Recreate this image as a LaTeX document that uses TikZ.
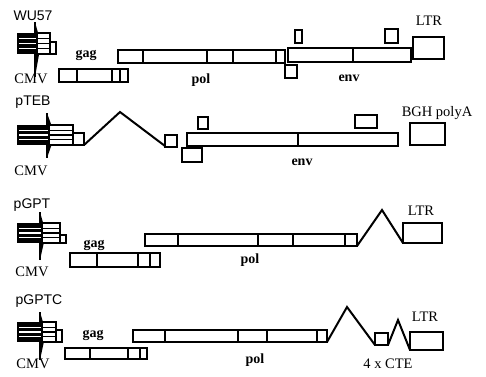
\documentclass[tikz,border=0pt]{standalone}
\usepackage{fontspec}
\setmainfont{Liberation Serif}
\newfontfamily\lblsans{Liberation Sans}
\newcommand\segbox[5]{%
  \draw[box] (#1,#2) rectangle (#3,#4);
  \foreach \d in {#5} {\draw[box] (\d,#2) -- (\d,#4);}}
\newcommand\plainbox[4]{\draw[box] (#1,#2) rectangle (#3,#4);}
% promoter: body x1 y1 x2 y2, spike top, spike bottom, tip x, striped box x2, small box top
\newcommand\promoter[9]{%
  \fill[black] (#1,#2) rectangle (#3,#4);
  \fill[black] (#3,#5) -- (#7,{(#2+#4)/2}) -- (#3,#6) -- cycle;
  \draw[line width=1.8pt] (#3,#5) -- (#3,#6);
  \foreach \f in {0.27,0.5,0.73}
    {\draw[white,line width=1.2pt] ({#1+2},{#2+\f*(#4-#2)}) -- ({#3+3},{#2+\f*(#4-#2)});}
  \draw[box] ({#3+2},#2) rectangle (#8,#4);
  \foreach \f in {0.27,0.5,0.73}
    {\draw[line width=1.3pt] ({#3+2},{#2+\f*(#4-#2)}) -- (#8,{#2+\f*(#4-#2)});}
  \draw[box] (#8,#9) rectangle ({#8+6},#4);
}
\begin{document}
\begin{tikzpicture}[x=1pt,y=-1pt,
  box/.style={draw=black,line width=2pt,fill=white},
  intron/.style={draw=black,line width=2pt,line join=miter},
  lbl/.style={font=\fontsize{14.5}{14.5}\selectfont,inner sep=0pt},
  gene/.style={font=\bfseries\fontsize{14}{14}\selectfont,inner sep=0pt},
  vecname/.style={font=\lblsans\fontsize{14}{14}\selectfont,inner sep=0pt}]
\useasboundingbox (0,0) rectangle (486,376);
\fill[white] (0,0) rectangle (486,376);

% ---------- Row 1: WU57 ----------
\node[vecname] (n1) at (33,16) {WU57};
\promoter{17}{33}{35}{54}{22}{77}{41}{50}{42}
\node[lbl] (c1) at (31,79) {CMV};
\segbox{59}{69}{128}{82}{77,112,120}
\node[gene] (g1) at (86,55) {gag};
\segbox{118}{50}{285}{63}{143,207,233,276}
\node[gene] (p1) at (201,80) {pol};
\segbox{288}{48}{411}{62}{353}
\node[gene] (e1) at (349,78) {env};
\plainbox{295}{30}{302}{43}
\plainbox{285}{65}{297}{78}
\plainbox{385}{29}{398}{43}
\plainbox{413}{37}{444}{59}
\node[lbl] (l1) at (429,21) {LTR};

% ---------- Row 2: pTEB ----------
\node[vecname] (n2) at (33,102) {pTEB};
\promoter{17}{125}{47}{145}{113}{158}{55}{73}{133}
\draw[box] (73,133) rectangle (84,145);
\node[lbl] (c2) at (31,171) {CMV};
\coordinate (a2) at (84,145);
\coordinate (k2) at (120,112);
\coordinate (b2) at (165,146);
\draw[intron] (a2) -- (k2) -- (b2);
\plainbox{165}{135}{177}{147}
\plainbox{198}{117}{208}{129}
\segbox{187}{133}{398}{146}{298}
\plainbox{182}{148}{202}{162}
\plainbox{355}{115}{377}{128}
\plainbox{410}{123}{445}{145}
\node[gene] (e2) at (302,162) {env};
\node[lbl] (bgh) at (437,113) {BGH polyA};

% ---------- Row 3: pGPT ----------
\node[vecname] (n3) at (32,205) {pGPT};
\promoter{17}{223}{40}{243}{212}{260}{46}{60}{235}
\node[lbl] (c3) at (32,272) {CMV};
\segbox{70}{253}{160}{267}{97,138,150}
\node[gene] (g3) at (94,245) {gag};
\segbox{145}{234}{357}{246}{178,258,293,345}
\node[gene] (p3) at (250,260) {pol};
\coordinate (a3) at (357,246);
\coordinate (k3) at (382,210);
\coordinate (b3) at (403,243);
\draw[intron] (a3) -- (k3) -- (b3);
\plainbox{403}{223}{442}{243}
\node[lbl] (l3) at (421,211) {LTR};

% ---------- Row 4: pGPTC ----------
\node[vecname] (n4) at (39,301) {pGPTC};
\promoter{17}{322}{40}{342}{312}{360}{46}{56}{330}
\node[lbl] (c4) at (33,364) {CMV};
\segbox{65}{348}{147}{359}{90,128,140}
\node[gene] (g4) at (93,335) {gag};
\segbox{133}{330}{327}{342}{165,238,267,317}
\node[gene] (p4) at (255,360) {pol};
\coordinate (a4) at (327,342);
\coordinate (k4) at (347,307);
\coordinate (b4) at (375,345);
\draw[intron] (a4) -- (k4) -- (b4);
\plainbox{375}{333}{388}{345}
\coordinate (a5) at (388,345);
\coordinate (k5) at (398,320);
\coordinate (b5) at (410,350);
\draw[intron] (a5) -- (k5) -- (b5);
\plainbox{410}{332}{443}{350}
\node[lbl] (l4) at (425,317) {LTR};
\node[lbl] (cte) at (388,364) {4 x CTE};
\end{tikzpicture}
\end{document}
